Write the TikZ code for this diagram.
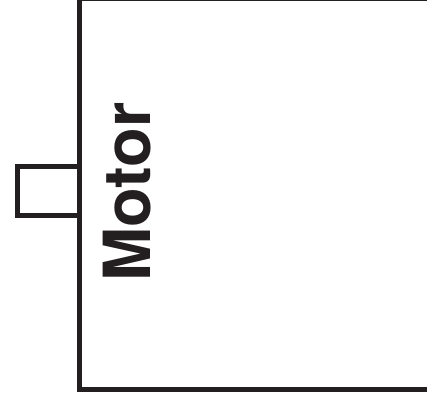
\documentclass[tikz,border=0pt]{standalone}
\usepackage{fontspec}
\newfontfamily\heros{TeX Gyre Heros}
\usetikzlibrary{positioning}
\definecolor{ink}{HTML}{231F20}

\begin{document}
\begin{tikzpicture}[x=1pt,y=1pt, every node/.style={inner sep=0pt,outer sep=0pt}, part/.style={draw=ink,line width=4.6pt}]
\useasboundingbox (0,0) rectangle (427,404);
\clip (0,0) rectangle (427,404);
\node[part,minimum width=360.5pt,minimum height=390.5pt] (motor) at (259.75,209.75) {};
\node[part,minimum width=62pt,minimum height=49pt,left=0pt of motor.west,yshift=3.25pt] (shaft) {};
\node[rotate=90,anchor=base,text=ink,font=\heros\bfseries\fontsize{65}{78}\selectfont] (name) at (150,212) {Motor};
\end{tikzpicture}
\end{document}
